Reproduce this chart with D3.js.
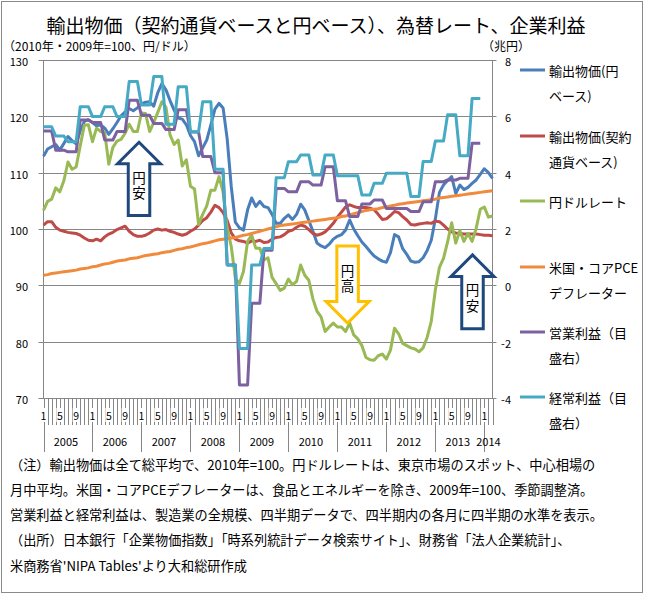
<!DOCTYPE html>
<html>
<head>
<meta charset="utf-8">
<script src="https://cdn.jsdelivr.net/npm/d3@7"></script>
<style>
body { margin: 0; background: #fff; }
text { font-family: "Noto Sans CJK JP", "Noto Sans", sans-serif; fill: #000; }
</style>
</head>
<body>
<div id="chart"></div>
<script>
// categories
var years = [2005, 2006, 2007, 2008, 2009, 2010, 2011, 2012, 2013, 2014];
var monthTickLabels = { 0: "1", 4: "5", 8: "9" };
var leftTicks = [70, 80, 90, 100, 110, 120, 130];
var rightTicks = [-4, -2, 0, 2, 4, 6, 8];

// monthly series, Jan 2005 - Mar 2014
var exportYen = [
  112.9, 114.2, 114.6, 115.0, 114.0, 115.2, 116.4, 115.7, 115.1, 117.4, 119.1, 119.4,
  118.9, 118.3, 118.5, 117.9, 116.8, 117.8, 118.9, 120.1, 120.8, 121.4, 121.0, 121.5,
  122.2, 122.5, 122.6, 121.8, 124.2, 125.8, 124.7, 122.8, 121.1, 119.7, 119.5, 118.5,
  116.6, 115.5, 113.0, 114.4, 115.8, 118.5, 121.3, 122.3, 121.5, 116.0, 107.5, 101.2,
  100.2, 99.8, 103.4, 105.5, 104.0, 104.9, 104.0, 103.8, 102.6, 101.0, 101.0, 101.9,
  102.5, 101.7, 102.6, 104.4, 103.4, 101.5, 99.6, 97.5, 97.0, 96.7, 97.3, 98.2,
  98.7, 99.0, 99.8, 101.6, 100.0, 98.8, 97.7, 96.9, 96.0, 95.2, 94.7, 94.3,
  94.1, 95.8, 99.0, 98.6, 96.5, 95.5, 94.3, 94.1, 94.2, 94.9, 96.2, 98.0,
  101.8, 106.5, 107.8, 108.6, 109.3, 106.3, 107.8, 107.0, 107.4, 108.1, 108.7, 109.7,
  110.7, 110.0, 109.0
];
var exportContract = [
  100.7, 101.3, 101.3, 100.3, 99.8, 99.6, 99.4, 99.3, 99.2, 98.9, 98.4, 98.0,
  97.9, 98.2, 97.9, 98.6, 99.1, 99.4, 99.9, 100.2, 100.5, 99.6, 99.0, 98.7,
  98.7, 98.9, 99.3, 99.8, 100.0, 99.8, 99.9, 99.6, 99.4, 99.1, 98.9, 99.1,
  99.6, 100.0, 100.7, 101.5, 102.0, 103.0, 104.2, 103.8, 102.9, 101.5, 99.3, 98.2,
  97.9, 97.8, 97.5, 97.9, 97.8, 98.0, 97.6, 97.7, 98.2, 98.5, 98.6, 99.0,
  99.6, 99.8, 100.3, 100.7, 100.5, 99.9, 99.2, 98.9, 99.1, 99.5, 100.2, 101.0,
  102.1, 103.0, 103.9, 104.3, 104.0, 103.8, 103.8, 103.8, 103.7, 103.4, 102.6, 101.7,
  101.8, 102.4, 103.1, 102.9, 102.2, 101.6, 100.8, 100.7, 100.9, 101.0, 101.1, 101.0,
  101.4, 101.3, 100.7, 100.0, 99.5, 99.3, 99.2, 99.1, 99.1, 99.1, 99.1, 99.0,
  98.9, 98.9, 98.8
];
var usdJpy = [
  103.3, 104.9, 105.3, 107.3, 106.6, 108.6, 111.9, 110.6, 111.0, 114.8, 118.4, 118.5,
  115.5, 117.9, 117.3, 117.1, 111.5, 114.5, 115.6, 115.9, 117.0, 118.6, 117.3, 117.3,
  120.6, 120.5, 117.3, 118.9, 120.7, 122.6, 121.6, 116.7, 115.0, 115.8, 111.2, 112.3,
  107.6, 107.1, 100.8, 102.6, 104.1, 106.9, 106.9, 109.3, 106.6, 100.1, 96.9, 91.3,
  90.3, 92.5, 97.8, 98.9, 96.6, 96.6, 94.5, 94.9, 91.4, 90.3, 89.1, 89.5,
  91.1, 90.1, 90.7, 93.6, 91.8, 90.9, 87.6, 85.4, 84.4, 81.8, 82.6, 83.3,
  82.6, 82.6, 81.8, 83.3, 81.2, 80.5, 79.3, 77.2, 76.8, 76.7, 77.5, 77.8,
  76.9, 78.5, 82.4, 81.4, 79.7, 79.3, 78.9, 78.7, 78.2, 78.9, 80.8, 83.6,
  89.2, 93.2, 94.8, 97.7, 101.1, 97.5, 99.7, 97.8, 99.2, 97.8, 100.1, 103.5,
  103.9, 102.1, 102.3
];
var corePce = [
  91.8, 91.9, 92.1, 92.2, 92.3, 92.4, 92.5, 92.6, 92.7, 92.9, 93.0, 93.1,
  93.3, 93.4, 93.6, 93.8, 93.9, 94.1, 94.3, 94.4, 94.5, 94.7, 94.8, 94.9,
  95.1, 95.3, 95.4, 95.5, 95.6, 95.8, 95.9, 96.0, 96.2, 96.4, 96.5, 96.7,
  96.8, 97.0, 97.2, 97.4, 97.5, 97.7, 97.9, 98.1, 98.2, 98.3, 98.4, 98.5,
  98.7, 98.9, 99.0, 99.2, 99.4, 99.6, 99.8, 100.0, 100.2, 100.4, 100.6, 100.7,
  100.8, 100.9, 101.0, 101.1, 101.2, 101.3, 101.4, 101.5, 101.6, 101.7, 101.8, 101.9,
  102.0, 102.2, 102.3, 102.5, 102.7, 102.9, 103.1, 103.3, 103.4, 103.5, 103.6, 103.8,
  103.9, 104.1, 104.2, 104.4, 104.5, 104.6, 104.7, 104.8, 104.9, 105.0, 105.1, 105.2,
  105.3, 105.5, 105.6, 105.7, 105.8, 105.9, 106.0, 106.1, 106.2, 106.3, 106.4, 106.5,
  106.6, 106.7, 106.8
];

// quarterly profits (trillion yen), Q1 2005 - Q4 2013
var operatingProfit = [
  5.48, 4.80, 4.74, 5.87,  5.78, 5.16, 5.46, 6.57,  6.04, 5.75, 5.53, 6.23,
  5.44, 4.57, 4.00, 0.72, -3.54, -0.64, 1.25, 3.44,  3.32, 3.68, 3.56, 4.21,
  3.00, 2.44, 2.89, 3.03,  2.73, 2.73, 2.62, 2.97,  3.68, 3.74, 3.80, 5.04
];
var ordinaryProfit = [
  5.63, 5.30, 5.10, 6.34,  5.99, 6.34, 5.99, 7.24,  6.40, 7.41, 5.72, 7.05,
  5.45, 6.52, 4.12, 0.72, -2.24, 0.72, 1.31, 3.82,  4.39, 4.63, 3.92, 4.63,
  3.89, 3.89, 3.21, 3.62,  3.98, 3.98, 3.15, 4.40,  5.12, 6.06, 4.60, 6.63
];

// each month of a quarter carries that quarter's level
function toMonthly(q) {
  var out = [];
  q.forEach(function(v) { out.push(v, v, v); });
  return out;
}

var series = [
  { name: ["輸出物価(円", "ベース)"], color: "#4A7EBB", values: exportYen, axis: "L" },
  { name: ["輸出物価(契約", "通貨ベース)"], color: "#BE4B48", values: exportContract, axis: "L" },
  { name: ["円ドルレート"], color: "#98B954", values: usdJpy, axis: "L" },
  { name: ["米国・コアPCE", "デフレーター"], color: "#F08A3C", values: corePce, axis: "L" },
  { name: ["営業利益（目", "盛右）"], color: "#7D60A0", values: toMonthly(operatingProfit), axis: "R" },
  { name: ["経常利益（目", "盛右）"], color: "#46AAC5", values: toMonthly(ordinaryProfit), axis: "R" }
];

var width = 645, height = 595;
var plotLeft = 43.5, plotRight = 492.5, plotTop = 60, plotBottom = 398;
var nMonths = exportYen.length;

var svg = d3.select("#chart").append("svg")
    .attr("width", width)
    .attr("height", height);

svg.append("rect")
    .attr("x", 1.5).attr("y", 1.5)
    .attr("width", 641).attr("height", 591)
    .attr("fill", "#fff").attr("stroke", "#8a8a8a");

var x = d3.scaleLinear().domain([0, nMonths - 1]).range([plotLeft, plotRight]);
var yL = d3.scaleLinear().domain([70, 130]).range([plotBottom, plotTop]);
var yR = d3.scaleLinear().domain([-4, 8]).range([plotBottom, plotTop]);

var gridColor = "#868686";

// title
svg.append("text")
    .attr("x", 316).attr("y", 24)
    .attr("text-anchor", "middle")
    .attr("dominant-baseline", "central")
    .style("font-size", "19px")
    .text("輸出物価（契約通貨ベースと円ベース）、為替レート、企業利益");

svg.append("text")
    .attr("x", 3).attr("y", 45.5)
    .attr("dominant-baseline", "central")
    .style("font-size", "12px")
    .text("（2010年・2009年=100、円/ドル）");

svg.append("text")
    .attr("x", 482).attr("y", 45.5)
    .attr("dominant-baseline", "central")
    .style("font-size", "12px")
    .text("（兆円）");

// gridlines
svg.append("g").selectAll("line")
  .data(leftTicks)
  .enter().append("line")
    .attr("x1", plotLeft - 5).attr("x2", plotRight + 4)
    .attr("y1", function(d) { return Math.round(yL(d)) + 0.5; })
    .attr("y2", function(d) { return Math.round(yL(d)) + 0.5; })
    .attr("stroke", gridColor);

svg.append("line")
    .attr("x1", plotLeft).attr("x2", plotLeft)
    .attr("y1", plotTop).attr("y2", plotBottom)
    .attr("stroke", gridColor);
svg.append("line")
    .attr("x1", plotRight).attr("x2", plotRight)
    .attr("y1", plotTop).attr("y2", plotBottom)
    .attr("stroke", gridColor);

// left axis labels
svg.append("g").selectAll("text")
  .data(leftTicks)
  .enter().append("text")
    .attr("x", 28).attr("y", function(d) { return yL(d) + 1; })
    .attr("text-anchor", "end")
    .attr("dominant-baseline", "central")
    .style("font-size", "11px")
    .text(function(d) { return d; });

// right axis labels
svg.append("g").selectAll("text")
  .data(rightTicks)
  .enter().append("text")
    .attr("x", 511).attr("y", function(d) { return yR(d) + 1; })
    .attr("text-anchor", "end")
    .attr("dominant-baseline", "central")
    .style("font-size", "11px")
    .text(function(d) { return d; });

// x axis: month ticks, month labels, year separators
var idx = d3.range(nMonths);
var xa = svg.append("g");
xa.selectAll(".mtick")
  .data(idx)
  .enter().append("line")
    .attr("x1", function(i) { return Math.round(x(i)) + 0.5; })
    .attr("x2", function(i) { return Math.round(x(i)) + 0.5; })
    .attr("y1", plotBottom)
    .attr("y2", function(i) { return i % 12 === 0 ? 452 : 425; })
    .attr("stroke", gridColor);

var labelled = idx.filter(function(i) { return monthTickLabels[i % 12] !== undefined; });
xa.selectAll(".mbg")
  .data(labelled)
  .enter().append("rect")
    .attr("x", function(i) { return x(i) - 3.5; })
    .attr("y", 408)
    .attr("width", 7).attr("height", 14)
    .attr("fill", "#fff");
xa.selectAll(".mlab")
  .data(labelled)
  .enter().append("text")
    .attr("x", function(i) { return x(i); })
    .attr("y", 415)
    .attr("text-anchor", "middle")
    .attr("dominant-baseline", "central")
    .style("font-size", "10.5px")
    .text(function(i) { return monthTickLabels[i % 12]; });

xa.selectAll(".ylab")
  .data(years)
  .enter().append("text")
    .attr("x", function(yr, k) {
      var a = k * 12, b = Math.min(a + 11, nMonths - 1);
      return (x(a) + x(b)) / 2;
    })
    .attr("y", 441)
    .attr("text-anchor", "middle")
    .attr("dominant-baseline", "central")
    .style("font-size", "11px")
    .text(function(d) { return d; });

// series lines
var lines = svg.append("g");
series.forEach(function(s) {
  var y = s.axis === "L" ? yL : yR;
  var line = d3.line()
    .x(function(d, i) { return x(i); })
    .y(function(d) { return y(d); });
  lines.append("path")
    .datum(s.values)
    .attr("d", line)
    .attr("fill", "none")
    .attr("stroke", s.color)
    .attr("stroke-width", 3)
    .attr("stroke-linejoin", "round");
});

// 円安 / 円高 arrows
var arrows = [
  { dir: "up", i: 23.4, from: 115.4, to: 102.4, color: "#1F497D", label: "円安" },
  { dir: "down", i: 74.5, from: 97.0, to: 83.3, color: "#FFC000", label: "円高" },
  { dir: "up", i: 105.1, from: 95.4, to: 82.3, color: "#1F497D", label: "円安" }
];
var headW = 43, shaftW = 21.5, headH = 21.5;
arrows.forEach(function(a) {
  var cx = x(a.i), y0 = yL(a.from), y1 = yL(a.to);
  var pts, textMid;
  if (a.dir === "up") {
    pts = [[cx, y0], [cx + headW / 2, y0 + headH], [cx + shaftW / 2, y0 + headH],
           [cx + shaftW / 2, y1], [cx - shaftW / 2, y1], [cx - shaftW / 2, y0 + headH],
           [cx - headW / 2, y0 + headH]];
    textMid = y0 + headH + 22.5;
  } else {
    pts = [[cx - shaftW / 2, y0], [cx + shaftW / 2, y0], [cx + shaftW / 2, y1 - headH],
           [cx + headW / 2, y1 - headH], [cx, y1], [cx - headW / 2, y1 - headH],
           [cx - shaftW / 2, y1 - headH]];
    textMid = y0 + 33.5;
  }
  svg.append("path")
    .attr("d", "M" + pts.map(function(p) { return p.join(","); }).join("L") + "Z")
    .attr("fill", "#fff")
    .attr("stroke", a.color)
    .attr("stroke-width", 3)
    .attr("stroke-linejoin", "miter");
  svg.append("text")
    .attr("x", cx).attr("y", textMid)
    .attr("text-anchor", "middle")
    .style("writing-mode", "vertical-rl")
    .style("letter-spacing", "2px")
    .style("font-size", "13.5px")
    .text(a.label);
});

// legend
var legendY = [70, 136, 201, 267, 332, 397];
var lg = svg.append("g");
series.forEach(function(s, k) {
  var ly = legendY[k];
  lg.append("line")
    .attr("x1", 520).attr("x2", 545)
    .attr("y1", ly).attr("y2", ly)
    .attr("stroke", s.color)
    .attr("stroke-width", 3);
  s.name.forEach(function(t, j) {
    lg.append("text")
      .attr("x", 549).attr("y", ly + j * 25)
      .attr("dominant-baseline", "central")
      .style("font-size", "13px")
      .text(t);
  });
});

// notes
var notes = [
  "（注）輸出物価は全て総平均で、2010年=100。円ドルレートは、東京市場のスポット、中心相場の",
  "月中平均。米国・コアPCEデフレーターは、食品とエネルギーを除き、2009年=100、季節調整済。",
  "営業利益と経常利益は、製造業の全規模、四半期データで、四半期内の各月に四半期の水準を表示。",
  "（出所）日本銀行「企業物価指数」「時系列統計データ検索サイト」、財務省「法人企業統計」、",
  "米商務省'NIPA Tables'より大和総研作成"
];
svg.append("g").selectAll("text")
  .data(notes)
  .enter().append("text")
    .attr("x", 10)
    .attr("y", function(d, i) { return 464 + i * 25.3; })
    .attr("dominant-baseline", "central")
    .style("font-size", "13.2px")
    .text(function(d) { return d; });
</script>
</body>
</html>
